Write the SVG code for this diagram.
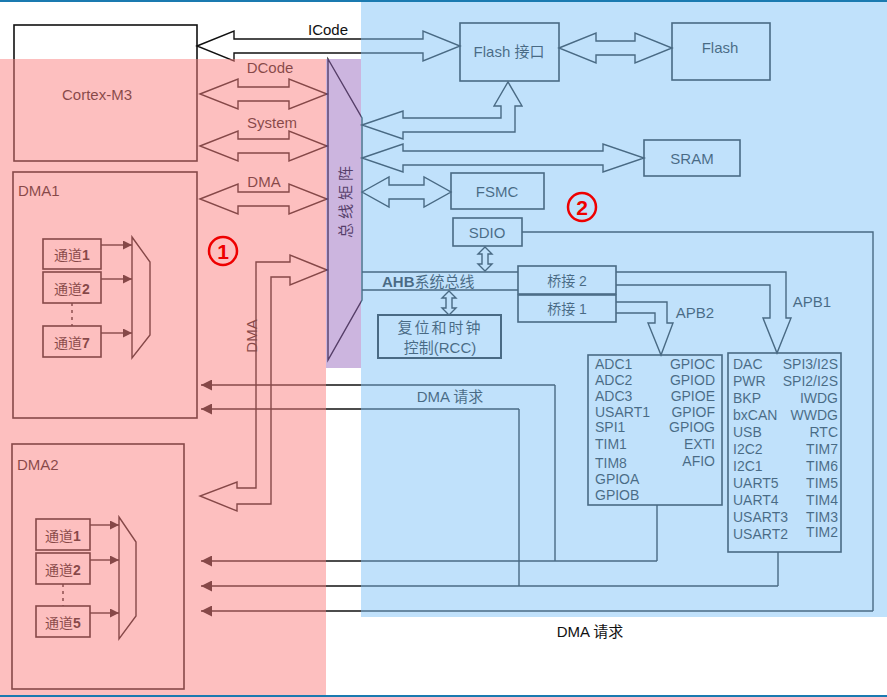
<svg xmlns="http://www.w3.org/2000/svg" width="887" height="697" viewBox="0 0 887 697">
<style>
text{font-family:"Liberation Sans","Noto Sans CJK SC",sans-serif;fill:#111;font-size:15px}
.b{fill:none;stroke:#111;stroke-width:1.6}
.l{fill:none;stroke:#111;stroke-width:1.4}
.s{font-size:14px}
.r{text-anchor:end}
.m{text-anchor:middle}
</style>
<defs>
<marker id="ah" viewBox="0 0 10 10" refX="10" refY="5" markerWidth="9" markerHeight="9" markerUnits="userSpaceOnUse" orient="auto"><path d="M0,0L10,5L0,10Z" fill="#111"/></marker>
<marker id="ah2" viewBox="0 0 10 10" refX="10" refY="5" markerWidth="11" markerHeight="11" markerUnits="userSpaceOnUse" orient="auto"><path d="M0,0L10,5L0,10Z" fill="#111"/></marker>
</defs>
<rect width="887" height="697" fill="#fff"/>
<g id="connectors">
<path class="l" d="M197,46 L234,31 L234,39 L423,39 L423,31 L460,46 L423,61 L423,53 L234,53 L234,61 Z"/>
<path class="l" d="M200,94 L238,79 L238,87 L289,87 L289,79 L327,94 L289,109 L289,101 L238,101 L238,109 Z"/>
<path class="l" d="M200,146 L238,131 L238,139 L289,139 L289,131 L327,146 L289,161 L289,153 L238,153 L238,161 Z"/>
<path class="l" d="M200,199 L238,184 L238,192 L289,192 L289,184 L327,199 L289,214 L289,206 L238,206 L238,214 Z"/>
<path class="l" d="M559,48 L596,33 L596,41 L635,41 L635,33 L672,48 L635,63 L635,55 L596,55 L596,63 Z"/>
<path class="l" d="M362,158 L403,144 L403,151 L603,151 L603,144 L644,158 L603,172 L603,165 L403,165 L403,172 Z"/>
<path class="l" d="M362,192 L389,177 L389,185 L424,185 L424,177 L451,192 L424,207 L424,199 L389,199 L389,207 Z"/>
<path class="l" d="M362,125 L403,111 L403,118 L501,118 L501,106 L494,106 L508,82 L522,106 L515,106 L515,132 L403,132 L403,139 Z"/>
<path class="l" d="M485,247 L492,254 L488,254 L488,264 L492,264 L485,271 L478,264 L482,264 L482,254 L478,254 Z"/>
<path class="l" d="M449,291 L456,298 L452,298 L452,308 L456,308 L449,315 L442,308 L446,308 L446,298 L442,298 Z"/>
<path class="l" d="M362,272 L518,272 M362,290 L518,290"/>
<path class="l" d="M616,302 L667,302 L667,323 L673,323 L661,355 L648,323 L655,323 L655,313 L616,313"/>
<path class="l" d="M616,272 L786,272 L786,318 L791,318 L777,353 L763,318 L770,318 L770,285 L616,285"/>
<path class="l" d="M555,385 L555,561 M519,409 L519,586 M657,505 L657,561 M778,552 L778,586 M522,232 L873,232 L873,611"/>
<path class="l" d="M555,385 L201,385" marker-end="url(#ah2)"/>
<path class="l" d="M519,409 L201,409" marker-end="url(#ah2)"/>
<path class="l" d="M657,561 L201,561" marker-end="url(#ah2)"/>
<path class="l" d="M778,586 L201,586" marker-end="url(#ah2)"/>
<path class="l" d="M873,611 L201,611" marker-end="url(#ah2)"/>
<path class="l" d="M327,270 L290,255 L290,262 L256,262 L256,488 L237,488 L237,482 L200,496 L237,511 L237,504 L271,504 L271,277 L290,277 L290,285 Z" fill="#fff"/>
<text transform="translate(257,336) rotate(-90)" class="m">DMA</text>
</g>
<g id="cortex"><rect class="b" x="14" y="25" width="183" height="136"/><text x="97" y="100" class="m">Cortex-M3</text></g>
<text x="328" y="35" class="m">ICode</text>
<text x="270" y="73" class="m">DCode</text>
<text x="272" y="128" class="m">System</text>
<text x="264" y="187" class="m">DMA</text>
<g id="busmatrix"><path class="l" d="M328,59 L362,118 L362,300 L328,360 Z"/><text transform="translate(351,200) rotate(-90)" class="m" style="letter-spacing:4px">总线矩阵</text></g>
<g id="flashif"><rect class="b" x="460" y="23" width="99" height="58"/><text x="509" y="57" class="m">Flash 接口</text></g>
<g id="flash"><rect class="b" x="672" y="23" width="98" height="57"/><text x="720" y="53" class="m">Flash</text></g>
<g id="sram"><rect class="b" x="644" y="140" width="96" height="36"/><text x="692" y="164" class="m">SRAM</text></g>
<g id="fsmc"><rect class="b" x="451" y="173" width="93" height="36"/><text x="497" y="197" class="m">FSMC</text></g>
<g id="sdio"><rect class="b" x="453" y="218" width="69" height="28"/><text x="487" y="238" class="m">SDIO</text></g>
<text x="382" y="287" style="font-weight:bold">AHB<tspan style="font-weight:normal">系统总线</tspan></text>
<g id="bridge2"><rect class="b" x="518" y="266" width="98" height="28"/><text x="567" y="286" class="m s">桥接 2</text></g>
<g id="bridge1"><rect class="b" x="518" y="295" width="98" height="27"/><text x="567" y="314" class="m s">桥接 1</text></g>
<g id="rcc"><rect class="b" x="378" y="315" width="123" height="43" style="stroke-width:2"/><text x="440" y="333" class="m" style="letter-spacing:2px">复位和时钟</text><text x="440" y="353" class="m">控制(RCC)</text></g>
<text x="695" y="318" class="m">APB2</text>
<text x="812" y="307" class="m">APB1</text>
<g id="apb2"><rect class="b" x="588" y="355" width="134" height="150"/>
<g class="s"><text x="595" y="369" class="s">ADC1</text><text x="595" y="385" class="s">ADC2</text><text x="595" y="401" class="s">ADC3</text><text x="595" y="417" class="s">USART1</text><text x="595" y="432" class="s">SPI1</text><text x="595" y="449" class="s">TIM1</text><text x="595" y="468" class="s">TIM8</text><text x="595" y="484" class="s">GPIOA</text><text x="595" y="500" class="s">GPIOB</text>
<text x="715" y="369" class="s r">GPIOC</text><text x="715" y="385" class="s r">GPIOD</text><text x="715" y="401" class="s r">GPIOE</text><text x="715" y="417" class="s r">GPIOF</text><text x="715" y="432" class="s r">GPIOG</text><text x="715" y="449" class="s r">EXTI</text><text x="715" y="466" class="s r">AFIO</text></g></g>
<g id="apb1"><rect class="b" x="728" y="353" width="113" height="199"/>
<text x="733" y="369" class="s">DAC</text><text x="733" y="386" class="s">PWR</text><text x="733" y="403" class="s">BKP</text><text x="733" y="420" class="s">bxCAN</text><text x="733" y="437" class="s">USB</text><text x="733" y="454" class="s">I2C2</text><text x="733" y="471" class="s">I2C1</text><text x="733" y="488" class="s">UART5</text><text x="733" y="505" class="s">UART4</text><text x="733" y="522" class="s">USART3</text><text x="733" y="539" class="s">USART2</text>
<text x="838" y="369" class="s r">SPI3/I2S</text><text x="838" y="386" class="s r">SPI2/I2S</text><text x="838" y="403" class="s r">IWDG</text><text x="838" y="420" class="s r">WWDG</text><text x="838" y="437" class="s r">RTC</text><text x="838" y="454" class="s r">TIM7</text><text x="838" y="471" class="s r">TIM6</text><text x="838" y="488" class="s r">TIM5</text><text x="838" y="505" class="s r">TIM4</text><text x="838" y="522" class="s r">TIM3</text><text x="838" y="537" class="s r">TIM2</text></g>
<text x="450" y="402" class="m">DMA 请求</text>
<text x="590" y="637" class="m">DMA 请求</text>
<g id="dma1"><rect class="b" x="13" y="172" width="184" height="246"/><text x="18" y="196">DMA1</text>
<rect class="b" x="43" y="239" width="58" height="30"/><text x="72" y="260" class="m s">通道<tspan style="font-weight:bold">1</tspan></text>
<rect class="b" x="43" y="272" width="58" height="31"/><text x="72" y="294" class="m s">通道<tspan style="font-weight:bold">2</tspan></text>
<rect class="b" x="43" y="326" width="58" height="31"/><text x="72" y="348" class="m s">通道<tspan style="font-weight:bold">7</tspan></text>
<path class="l" d="M72,303 L72,326" stroke-dasharray="3,4"/>
<path class="l" d="M101,245 L132,245" marker-end="url(#ah)"/><path class="l" d="M101,279 L132,279" marker-end="url(#ah)"/><path class="l" d="M101,333 L132,333" marker-end="url(#ah)"/>
<path class="l" d="M132,237 L150,262 L150,335 L132,358 Z"/></g>
<g id="dma2"><rect class="b" x="12" y="444" width="172" height="245"/><text x="17" y="470">DMA2</text>
<rect class="b" x="36" y="519" width="54" height="31"/><text x="63" y="541" class="m s">通道<tspan style="font-weight:bold">1</tspan></text>
<rect class="b" x="36" y="553" width="54" height="31"/><text x="63" y="575" class="m s">通道<tspan style="font-weight:bold">2</tspan></text>
<rect class="b" x="36" y="606" width="54" height="31"/><text x="63" y="628" class="m s">通道<tspan style="font-weight:bold">5</tspan></text>
<path class="l" d="M63,584 L63,606" stroke-dasharray="3,4"/>
<path class="l" d="M90,525 L119,525" marker-end="url(#ah)"/><path class="l" d="M90,560 L119,560" marker-end="url(#ah)"/><path class="l" d="M90,613 L119,613" marker-end="url(#ah)"/>
<path class="l" d="M119,517 L136,542 L136,616 L119,639 Z"/></g>
<g id="overlays">
<rect x="0" y="59" width="326" height="638" fill="#fb7f7f" opacity="0.5"/>
<rect x="361" y="0" width="526" height="617" fill="#81c4f7" opacity="0.5"/>
<rect x="326" y="59" width="35" height="309" fill="#9a6bbf" opacity="0.5"/>
<rect x="0" y="0" width="887" height="2" fill="#1a7ab0"/>
<rect x="0" y="695" width="887" height="2" fill="#1a7ab0"/>
</g>
<g id="markers">
<circle cx="223" cy="251" r="14" fill="none" stroke="#e00" stroke-width="2.5"/><text x="223" y="259" class="m" style="fill:#e00;font-weight:bold;font-size:21px">1</text>
<circle cx="582" cy="207" r="14" fill="none" stroke="#e00" stroke-width="2.5"/><text x="582" y="215" class="m" style="fill:#e00;font-weight:bold;font-size:21px">2</text>
</g>
</svg>
